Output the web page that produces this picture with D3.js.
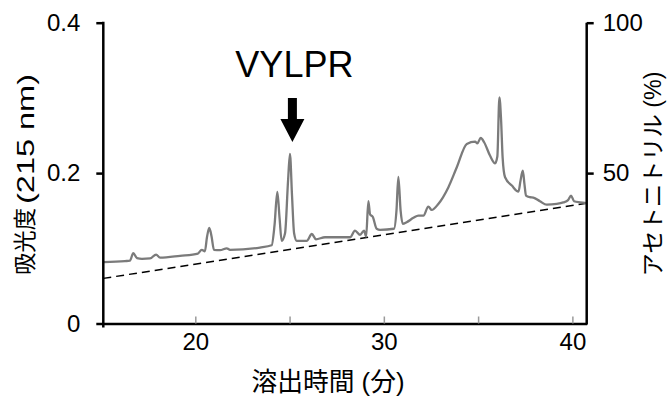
<!DOCTYPE html>
<html>
<head>
<meta charset="utf-8">
<script src="https://cdn.jsdelivr.net/npm/d3@7"></script>
<style>
  body { margin: 0; background: #fff; }
  svg { display: block; font-family: "Liberation Sans", Arial, "Noto Sans CJK JP", sans-serif; }
</style>
</head>
<body>
<svg id="chart" width="668" height="405"></svg>
<script>
"use strict";

// Chromatogram (elution time in min, absorbance at 215 nm)
var timeMin = [15.12, 16.27, 16.53, 16.71, 16.91, 17.17, 17.60, 17.92, 18.13, 19.19,
  20.14, 20.34, 20.51, 20.62, 20.74, 20.86, 20.99, 21.31, 21.67, 21.84,
  23.43, 24.05, 24.20, 24.35, 24.47, 24.58, 24.76, 24.92, 25.02, 25.13,
  25.24, 25.38, 25.91, 26.18, 26.40, 26.88, 28.21, 28.47, 28.74, 28.95,
  29.06, 29.18, 29.27, 29.41, 29.62, 29.80, 30.54, 30.67, 30.77, 30.89,
  31.00, 31.21, 31.57, 31.83, 32.10, 32.36, 32.54, 32.89, 33.42, 33.87,
  34.40, 34.84, 34.96, 35.14, 35.32, 35.63, 35.90, 36.02, 36.13, 36.22,
  36.30, 36.43, 36.79, 37.14, 37.25, 37.37, 37.46, 37.54, 37.75, 37.93,
  38.28, 38.64, 39.17, 39.52, 39.77, 39.93, 40.09, 40.41, 40.76];
var absorbance = [0.0815, 0.083, 0.0835, 0.0934, 0.087, 0.086, 0.0865, 0.0917, 0.0875, 0.090,
  0.093, 0.098, 0.096, 0.115, 0.127, 0.116, 0.098, 0.0975, 0.100, 0.098,
  0.101, 0.104, 0.130, 0.175, 0.140, 0.110, 0.120, 0.190, 0.2255, 0.170,
  0.120, 0.110, 0.110, 0.119, 0.112, 0.1147, 0.1147, 0.1236, 0.118, 0.1236,
  0.1156, 0.1626, 0.145, 0.142, 0.126, 0.1245, 0.126, 0.150, 0.195, 0.150,
  0.1325, 0.1347, 0.1405, 0.1435, 0.1435, 0.1555, 0.151, 0.159, 0.181, 0.2077,
  0.2388, 0.2418, 0.2396, 0.2468, 0.241, 0.2233, 0.213, 0.222, 0.3007, 0.270,
  0.221, 0.1944, 0.1834, 0.1754, 0.190, 0.2033, 0.185, 0.170, 0.168, 0.1675,
  0.1626, 0.158, 0.159, 0.161, 0.164, 0.170, 0.1626, 0.161, 0.160];

// Acetonitrile gradient (min, %)
var gradTime = [15.12, 40.76];
var gradPct = [15, 40];

// Ticks
var xTicks = [20, 25, 30, 35, 40];
var xLabels = [20, 30, 40];
var yTicks = [0, 0.2, 0.4];
var rightTicks = [50, 100];

// Annotation
var peakName = "VYLPR";
var peakTime = 25.15;
var peakAbs = 0.2255;

var svg = d3.select("#chart");
var m = { left: 103.3, right: 586.7, top: 22.7, bottom: 323.5 };

var x = d3.scaleLinear().domain([15.12, 40.76]).range([m.left, m.right]);
var y = d3.scaleLinear().domain([0, 0.4]).range([m.bottom, m.top]);
var yR = d3.scaleLinear().domain([0, 100]).range([m.bottom, m.top]);

// Gradient (dashed)
var grad = gradTime.map(function(t, i) { return [t, gradPct[i]]; });
svg.append("path")
    .datum(grad)
    .attr("fill", "none")
    .attr("stroke", "#000")
    .attr("stroke-width", 1.5)
    .attr("stroke-dasharray", "8,5")
    .attr("d", d3.line()
      .x(function(d) { return x(d[0]); })
      .y(function(d) { return yR(d[1]); }));

// Chromatogram
var chrom = timeMin.map(function(t, i) { return [t, absorbance[i]]; });
svg.append("path")
    .datum(chrom)
    .attr("fill", "none")
    .attr("stroke", "#7b7b7b")
    .attr("stroke-width", 2.3)
    .attr("stroke-linejoin", "round")
    .attr("d", d3.line()
      .curve(d3.curveMonotoneX)
      .x(function(d) { return x(d[0]); })
      .y(function(d) { return y(d[1]); }));

// Bottom axis
var xAxis = svg.append("g")
    .attr("transform", "translate(0," + m.bottom + ")")
    .call(d3.axisBottom(x)
      .tickValues(xTicks)
      .tickSize(-7)
      .tickSizeOuter(0)
      .tickPadding(9)
      .tickFormat(function(d) { return xLabels.indexOf(d) >= 0 ? d : ""; }));
xAxis.select(".domain").attr("stroke", "#000").attr("stroke-width", 2.5);
xAxis.selectAll(".tick line").attr("stroke", "#9a9a9a").attr("stroke-width", 1.5);
xAxis.selectAll("text").attr("font-size", 24).attr("fill", "#000");

// Left axis
var yAxis = svg.append("g")
    .attr("transform", "translate(" + m.left + ",0)")
    .call(d3.axisLeft(y)
      .tickValues(yTicks)
      .tickSize(7)
      .tickSizeOuter(0)
      .tickPadding(16)
      .tickFormat(function(d) { return d === 0 ? "0" : d3.format(".1f")(d); }));
yAxis.select(".domain").attr("stroke", "#000").attr("stroke-width", 2.5)
    .attr("d", "M0," + (m.top - 1) + "V" + (m.bottom + 4));
yAxis.selectAll(".tick line").attr("stroke", "#000").attr("stroke-width", 2.5);
yAxis.selectAll("text").attr("font-size", 24).attr("fill", "#000");

// Right axis
var rAxis = svg.append("g")
    .attr("transform", "translate(" + m.right + ",0)")
    .call(d3.axisRight(yR)
      .tickValues(rightTicks)
      .tickSize(7)
      .tickSizeOuter(0)
      .tickPadding(9));
rAxis.select(".domain").attr("stroke", "#000").attr("stroke-width", 2.5)
    .attr("d", "M0," + m.top + "V" + (m.bottom + 1));
rAxis.selectAll(".tick line").attr("stroke", "#000").attr("stroke-width", 2.5);
rAxis.selectAll("text").attr("font-size", 24).attr("fill", "#000");

// Axis titles (textLength keeps the original widths)
svg.append("text")
    .attr("transform", "translate(328,382)")
    .attr("text-anchor", "middle")
    .attr("dominant-baseline", "central")
    .attr("font-size", 26)
    .attr("textLength", 153)
    .attr("lengthAdjust", "spacingAndGlyphs")
    .text("溶出時間 (分)");

var yTitle = svg.append("g").attr("transform", "translate(25,275) rotate(-90)");
yTitle.append("text")
    .attr("dominant-baseline", "central")
    .attr("font-size", 23)
    .attr("textLength", 67)
    .attr("lengthAdjust", "spacingAndGlyphs")
    .text("吸光度");
yTitle.append("text")
    .attr("x", 71)
    .attr("dominant-baseline", "central")
    .attr("font-size", 24)
    .attr("textLength", 130)
    .attr("lengthAdjust", "spacingAndGlyphs")
    .text("(215 nm)");

svg.append("text")
    .attr("transform", "translate(653,174) rotate(-90)")
    .attr("text-anchor", "middle")
    .attr("dominant-baseline", "central")
    .attr("font-size", 23)
    .attr("textLength", 205)
    .attr("lengthAdjust", "spacingAndGlyphs")
    .text("アセトニトリル (%)");

// Peak annotation
var ax = x(peakTime),
    tip = y(peakAbs) - 12;
svg.append("path")
    .attr("fill", "#000")
    .attr("d", "M" + (ax - 4.5) + "," + (tip - 44) +
      "H" + (ax + 4.5) + "V" + (tip - 23) +
      "H" + (ax + 12) + "L" + ax + "," + tip +
      "L" + (ax - 12) + "," + (tip - 23) +
      "H" + (ax - 4.5) + "Z");

svg.append("text")
    .attr("x", ax + 2).attr("y", 77)
    .attr("text-anchor", "middle")
    .attr("font-size", 36)
    .text(peakName);
</script>
</body>
</html>
